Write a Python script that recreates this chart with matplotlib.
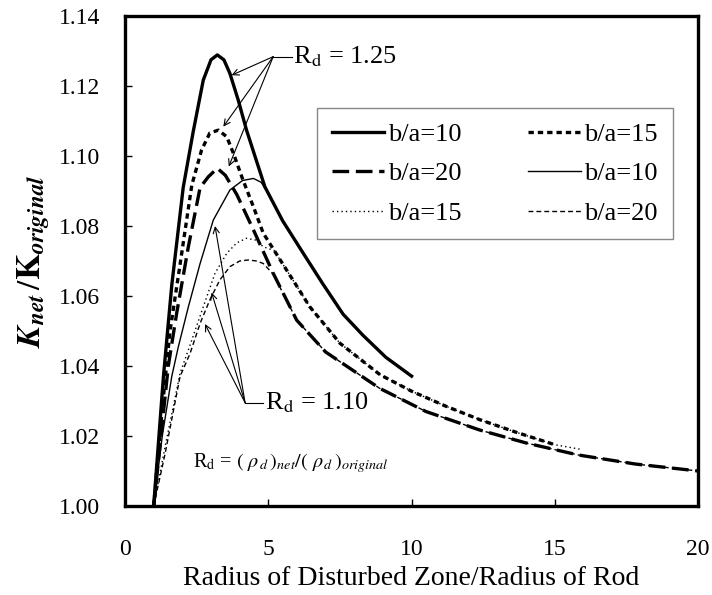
import matplotlib
matplotlib.use("Agg")
import matplotlib.pyplot as plt

plt.rcParams["font.family"] = ["Liberation Serif", "DejaVu Serif"]
plt.rcParams["mathtext.fontset"] = "stix"

# Rd = 1.25 (thick lines)
x_a = [1.00, 1.34, 1.63, 2.03, 2.38, 2.73, 3.00, 3.22, 3.45, 3.66, 3.95, 4.24,
       4.88, 5.50, 6.22, 6.90, 7.61, 8.30, 9.10, 10.00]
y_a = [1.000, 1.037, 1.063, 1.091, 1.107, 1.1217, 1.1275, 1.1289, 1.1275, 1.1236,
       1.1160, 1.1074, 1.0912, 1.0815, 1.0722, 1.0635, 1.0548, 1.0488, 1.0425, 1.0371]

x_b = [1.00, 1.30, 1.57, 1.92, 2.33, 2.67, 2.96, 3.26, 3.55, 3.78, 4.10, 4.48,
       4.82, 5.64, 6.45, 7.50, 8.90, 10.00, 11.20, 12.40, 13.60, 15.00]
y_b = [1.000, 1.028, 1.050, 1.069, 1.0917, 1.1017, 1.1066, 1.1074, 1.1055, 1.1008,
       1.0935, 1.0855, 1.0780, 1.0674, 1.0569, 1.0465, 1.0375, 1.0328, 1.0285,
       1.0246, 1.0212, 1.0175]

x_c = [1.00, 1.51, 1.80, 2.21, 2.62, 2.91, 3.22, 3.50, 3.90, 4.48, 5.17, 5.99,
       7.00, 8.89, 10.50, 12.38, 14.00, 15.80, 17.80, 20.00]
y_c = [1.000, 1.040, 1.055, 1.0741, 1.091, 1.0941, 1.0965, 1.0945, 1.0890, 1.0789,
       1.0665, 1.0531, 1.0440, 1.0336, 1.0270, 1.0217, 1.0180, 1.0146, 1.0120, 1.0100]

# Rd = 1.10 (thin lines)
x_d = [1.00, 1.30, 1.63, 1.86, 2.21, 2.62, 3.08, 3.66, 4.10, 4.48, 4.75, 4.94,
       5.50, 6.22, 6.90, 7.61, 8.30, 9.10, 10.00]
y_d = [1.000, 1.020, 1.037, 1.0455, 1.0569, 1.0693, 1.0817, 1.0903, 1.0930, 1.0936,
       1.0925, 1.0900, 1.0815, 1.0722, 1.0635, 1.0548, 1.0488, 1.0425, 1.0371]

x_e = [1.00, 1.40, 1.92, 2.33, 2.73, 3.14, 3.55, 3.90, 4.24, 4.55, 4.82, 5.20,
       5.64, 6.45, 7.50, 8.90, 10.00, 11.20, 12.40, 13.60, 15.00, 15.90]
y_e = [1.000, 1.017, 1.0379, 1.0474, 1.0569, 1.0665, 1.0722, 1.0752, 1.0765, 1.0760,
       1.0741, 1.0730, 1.0674, 1.0569, 1.0465, 1.0375, 1.0328, 1.0285, 1.0246,
       1.0212, 1.0175, 1.0162]

x_f = [1.00, 1.40, 1.92, 2.27, 2.62, 2.96, 3.31, 3.66, 4.00, 4.30, 4.60, 4.82,
       5.17, 5.99, 7.00, 8.89, 10.50, 12.38, 14.00, 15.80, 17.80, 20.00]
y_f = [1.000, 1.015, 1.037, 1.0436, 1.0522, 1.0589, 1.0646, 1.0684, 1.0700, 1.0703,
       1.0700, 1.0693, 1.0663, 1.0531, 1.0440, 1.0336, 1.0270, 1.0217, 1.0180,
       1.0146, 1.0120, 1.0100]

labels = ["b/a=10", "b/a=15", "b/a=20", "b/a=10", "b/a=15", "b/a=20"]

fig = plt.figure(figsize=(7.12, 5.95), dpi=100)
ax = fig.add_axes([0.1756, 0.1496, 0.805, 0.8234])

thick = 2.4
thin = 1.0
la, = ax.plot(x_a, y_a, color="black", lw=thick)
lb, = ax.plot(x_b, y_b, color="black", lw=thick, dashes=(1.6, 1.2))
lc, = ax.plot(x_c, y_c, color="black", lw=thick, dashes=(5, 2.0))
ld, = ax.plot(x_d, y_d, color="black", lw=thin)
le, = ax.plot(x_e, y_e, color="black", lw=thin, dashes=(1, 2.2))
lf, = ax.plot(x_f, y_f, color="black", lw=thin, dashes=(3.5, 2.2))

# legend filled row by row: (A,B), (C,D), (E,F)
order = [0, 2, 4, 1, 3, 5]
lines = [la, lb, lc, ld, le, lf]
leg = ax.legend([lines[i] for i in order], [labels[i] for i in order],
                ncol=2, loc="upper left", bbox_to_anchor=(0.335, 0.812),
                fontsize=19, frameon=True, fancybox=False, framealpha=1,
                edgecolor="#888888", handlelength=2.0, handletextpad=0.15,
                columnspacing=2.5, labelspacing=0.6, borderpad=0.55,
                borderaxespad=0)
leg.get_frame().set_linewidth(1.0)

# annotations
arr = dict(arrowstyle="->", color="black", lw=0.8, mutation_scale=11,
           shrinkA=0, shrinkB=0)
src125 = (5.17, 1.1284)
for tgt in [(3.72, 1.1231), (3.43, 1.1084), (3.62, 1.097)]:
    ax.annotate("", xy=tgt, xytext=src125, arrowprops=arr)
ax.plot([5.17, 5.82], [1.1284, 1.1284], color="black", lw=0.8)
ax.text(5.86, 1.1284, r"R$_\mathrm{d}$ = 1.25", fontsize=19, va="center", ha="left")

src110 = (4.19, 1.0295)
for tgt in [(3.14, 1.080), (3.02, 1.061), (2.79, 1.052)]:
    ax.annotate("", xy=tgt, xytext=src110, arrowprops=arr)
ax.plot([4.19, 4.83], [1.0295, 1.0295], color="black", lw=0.8)
ax.text(4.88, 1.0295, r"R$_\mathrm{d}$ = 1.10", fontsize=19, va="center", ha="left")

ax.text(2.38, 1.0122,
        r"R$_\mathrm{d}$ = $(\ \rho_{\,d}\,)_{net}/(\ \rho_{\,d}\,)_{original}$",
        fontsize=14.5, va="center", ha="left")

ax.set_xlim(0, 20)
ax.set_ylim(1.00, 1.14)
ax.set_xticks([0, 5, 10, 15, 20])
ax.set_yticks([1.00, 1.02, 1.04, 1.06, 1.08, 1.10, 1.12, 1.14])
ax.set_yticklabels([f"{v:.2f}" for v in ax.get_yticks()])
ax.tick_params(direction="in", length=5, width=1, labelsize=17)
ax.tick_params(axis="x", pad=24)
ax.tick_params(axis="y", pad=18)
for s in ax.spines.values():
    s.set_linewidth(2.4)

ax.set_xlabel("Radius of Disturbed Zone/Radius of Rod", fontsize=20, labelpad=4)
ax.set_ylabel(r"$\mathbfit{K}_{\mathbfit{net}}\,/\mathbf{K}_{\mathbfit{original}}$",
              fontsize=24)
ax.yaxis.set_label_coords(-0.128, 0.5)

fig.savefig("out.png", dpi=100)
